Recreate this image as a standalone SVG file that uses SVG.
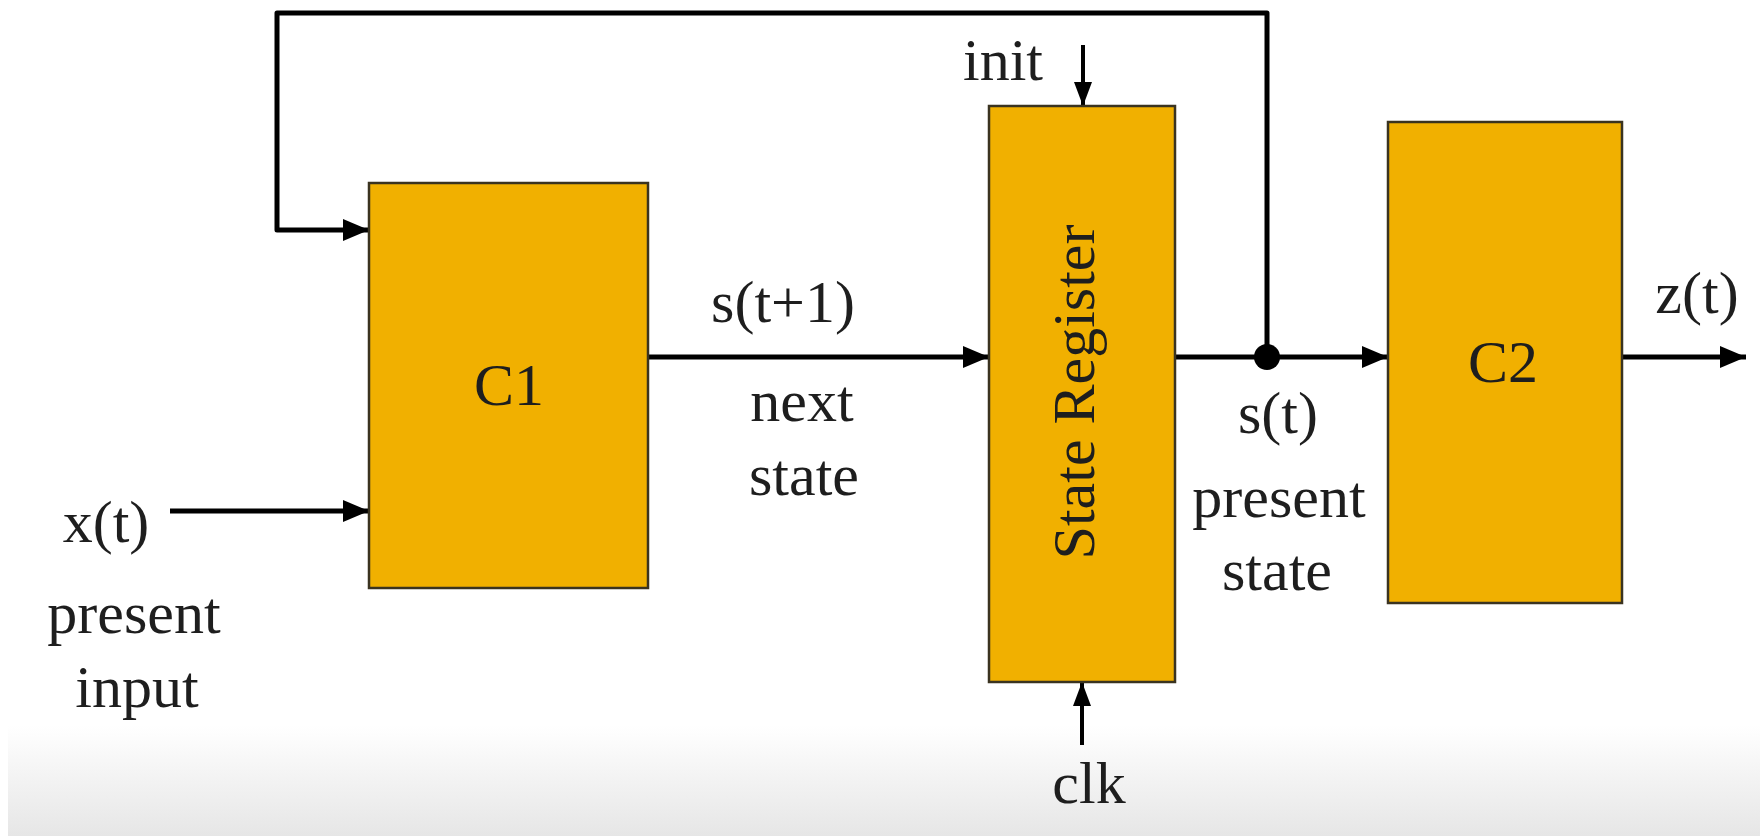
<svg xmlns="http://www.w3.org/2000/svg" width="1760" height="836" viewBox="0 0 1760 836">
<style>
.box{fill:#F1B000;stroke:#3a3320;stroke-width:2.5}
.wire{fill:none;stroke:#000;stroke-width:5;stroke-linejoin:round}
.thin{fill:none;stroke:#000;stroke-width:4}
.t{font-family:"Liberation Serif","Times New Roman",serif;font-size:60px;fill:#1e1e1e;text-anchor:middle}
</style>
<defs>
<marker id="ah" markerUnits="userSpaceOnUse" markerWidth="26" markerHeight="22" refX="26" refY="11" orient="auto">
<path d="M0,0 L26,11 L0,22 z" fill="#000"/>
</marker>
<marker id="ahs" markerUnits="userSpaceOnUse" markerWidth="24" markerHeight="18" refX="24" refY="9" orient="auto">
<path d="M0,0 L24,9 L0,18 z" fill="#000"/>
</marker>
<linearGradient id="band" x1="0" y1="0" x2="0" y2="1">
<stop offset="0" stop-color="#ffffff"/>
<stop offset="1" stop-color="#e6e6e6"/>
</linearGradient>
</defs>
<rect x="0" y="0" width="1760" height="836" fill="#ffffff"/>
<rect x="8" y="725" width="1752" height="111" fill="url(#band)"/>

<g id="connectors">
<path class="wire" d="M1267,357 L1267,13 L277,13 L277,230 L369,230" marker-end="url(#ah)"/>
<path class="wire" d="M648,357 L989,357" marker-end="url(#ah)"/>
<path class="wire" d="M1175,357 L1388,357" marker-end="url(#ah)"/>
<path class="wire" d="M1622,357 L1746,357" marker-end="url(#ah)"/>
<path class="wire" d="M170,511 L369,511" marker-end="url(#ah)"/>
<path class="thin" d="M1083,45 L1083,106" marker-end="url(#ahs)"/>
<path class="thin" d="M1082,745 L1082,682" marker-end="url(#ahs)"/>
<circle cx="1267" cy="357" r="13" fill="#000"/>
</g>

<g id="C1">
<rect class="box" x="369" y="183" width="279" height="405"/>
<text class="t" x="509" y="405">C1</text>
</g>
<g id="StateRegister">
<rect class="box" x="989" y="106" width="186" height="576"/>
<text class="t" transform="translate(1094,392) rotate(-90)" x="0" y="0">State Register</text>
</g>
<g id="C2">
<rect class="box" x="1388" y="122" width="234" height="481"/>
<text class="t" x="1503" y="382">C2</text>
</g>

<g id="labels">
<text class="t" x="783" y="322">s(t+1)</text>
<text class="t" x="802" y="421">next</text>
<text class="t" x="804" y="495">state</text>
<text class="t" x="106" y="542">x(t)</text>
<text class="t" x="134" y="633">present</text>
<text class="t" x="137" y="707">input</text>
<text class="t" x="1003" y="80">init</text>
<text class="t" x="1089" y="803">clk</text>
<text class="t" x="1278" y="433">s(t)</text>
<text class="t" x="1279" y="517">present</text>
<text class="t" x="1277" y="590">state</text>
<text class="t" x="1697" y="313">z(t)</text>
</g>
</svg>
